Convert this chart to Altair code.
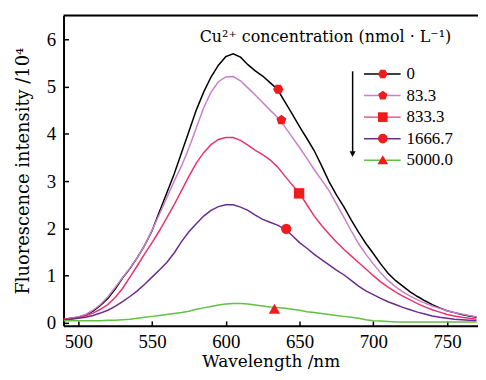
import altair as alt
import pandas as pd

# ---------------- data ----------------
wavelength = list(range(490, 775, 5))
series_names = ["0", "83.3", "833.3", "1666.7", "5000.0"]

int_0 = [0.08, 0.10, 0.12, 0.17, 0.25, 0.37, 0.52, 0.72, 0.95, 1.15, 1.38, 1.64,
         1.95, 2.35, 2.75, 3.15, 3.60, 4.05, 4.50, 4.88, 5.20, 5.45, 5.63, 5.69,
         5.62, 5.46, 5.33, 5.22, 5.08, 4.94, 4.68, 4.42, 4.15, 3.90, 3.64, 3.32,
         2.99, 2.71, 2.46, 2.18, 1.92, 1.68, 1.47, 1.25, 1.05, 0.90, 0.78, 0.66,
         0.56, 0.47, 0.39, 0.32, 0.26, 0.22, 0.18, 0.15, 0.12]
int_83 = [0.08, 0.10, 0.13, 0.18, 0.27, 0.39, 0.55, 0.75, 0.96, 1.16, 1.38, 1.64,
          1.96, 2.30, 2.65, 3.00, 3.32, 3.70, 4.12, 4.55, 4.88, 5.10, 5.20, 5.21,
          5.12, 4.97, 4.82, 4.66, 4.50, 4.35, 4.15, 3.93, 3.71, 3.48, 3.24, 3.02,
          2.80, 2.52, 2.24, 1.95, 1.68, 1.45, 1.25, 1.06, 0.90, 0.77, 0.66, 0.57,
          0.49, 0.42, 0.36, 0.31, 0.26, 0.22, 0.19, 0.16, 0.13]
int_833 = [0.08, 0.09, 0.11, 0.15, 0.21, 0.29, 0.39, 0.54, 0.73, 0.97, 1.21, 1.46,
           1.70, 1.95, 2.22, 2.50, 2.80, 3.10, 3.38, 3.60, 3.77, 3.88, 3.92, 3.92,
           3.86, 3.76, 3.65, 3.56, 3.45, 3.30, 3.11, 2.92, 2.74, 2.50, 2.26, 2.06,
           1.88, 1.71, 1.56, 1.42, 1.28, 1.14, 1.00, 0.87, 0.76, 0.66, 0.57, 0.49,
           0.41, 0.34, 0.28, 0.23, 0.18, 0.15, 0.12, 0.10, 0.08]
int_1667 = [0.07, 0.08, 0.10, 0.12, 0.16, 0.21, 0.27, 0.35, 0.45, 0.56, 0.68, 0.82,
            0.97, 1.12, 1.28, 1.48, 1.72, 1.93, 2.10, 2.26, 2.38, 2.46, 2.50, 2.50,
            2.45, 2.38, 2.28, 2.19, 2.13, 2.07, 1.99, 1.85, 1.70, 1.58, 1.45, 1.34,
            1.23, 1.12, 1.02, 0.90, 0.78, 0.68, 0.60, 0.52, 0.45, 0.39, 0.33, 0.28,
            0.23, 0.19, 0.15, 0.12, 0.10, 0.08, 0.07, 0.06, 0.05]
int_5000 = [0.05, 0.05, 0.05, 0.05, 0.05, 0.05, 0.06, 0.06, 0.07, 0.08, 0.10, 0.12,
            0.14, 0.16, 0.18, 0.20, 0.22, 0.25, 0.29, 0.32, 0.35, 0.38, 0.40, 0.41,
            0.41, 0.40, 0.38, 0.36, 0.34, 0.33, 0.31, 0.29, 0.27, 0.24, 0.22, 0.20,
            0.18, 0.16, 0.14, 0.12, 0.10, 0.07, 0.05, 0.04, 0.03, 0.02, 0.02, 0.02,
            0.02, 0.02, 0.02, 0.02, 0.02, 0.02, 0.02, 0.02, 0.02]

marker_wl = [635.6, 637.7, 649.7, 641.0, 633.0]
marker_val = [4.94, 4.29, 2.74, 1.99, 0.29]

arrow_wl = [686.0]
arrow_top = [5.32]
arrow_bottom = [3.62]
arrow_head = [3.57]

x_ticks = [500, 550, 600, 650, 700, 750]
y_ticks = [0, 1, 2, 3, 4, 5, 6]

legend_title = "Cu\u00b2\u207a concentration (nmol \u00b7 L\u207b\u00b9)"
x_title = "Wavelength /nm"
y_title = "Fluorescence intensity /10\u2074"

# ---------------- styles ----------------
line_colors = ["#000000", "#c97fcb", "#e8336e", "#6c2c8e", "#62c144"]
marker_color = "#ee1c1c"
marker_paths = [
    "M-1,0L-0.5,-0.866L0.5,-0.866L1,0L0.5,0.866L-0.5,0.866Z",        # hexagon
    "M0,-1L0.951,-0.309L0.588,0.809L-0.588,0.809L-0.951,-0.309Z",      # pentagon
    "square",
    "circle",
    "M-1.1,0.85L1.1,0.85L0,-1.05Z",                                    # triangle
]
W, H = 418, 313
SERIF = "DejaVu Serif"
DIGITS = "Liberation Serif"
LEG_ROWS = [59, 146]          # pixel span of the legend rows inside the plot
LEG_LINE = [303, 340]         # pixel span of the legend line samples
LEG_MARK_X = 322
LEG_TEXT_X = 346

rows = []
for name, vals in zip(series_names, [int_0, int_83, int_833, int_1667, int_5000]):
    for w, v in zip(wavelength, vals):
        rows.append({"wl": w, "val": v, "series": name})
df = pd.DataFrame(rows)
mdf = pd.DataFrame({"wl": marker_wl, "val": marker_val, "series": series_names})
adf = pd.DataFrame({"wl": arrow_wl, "top": arrow_top, "bottom": arrow_bottom, "head": arrow_head})
ldf = pd.DataFrame({"series": series_names})
one = pd.DataFrame({"t": [legend_title]})

xscale = alt.Scale(domain=[490, 771], nice=False, zero=False)
yscale = alt.Scale(domain=[-0.06, 6.5], nice=False, zero=False)
cscale = alt.Scale(domain=series_names, range=line_colors)
sscale = alt.Scale(domain=series_names, range=marker_paths)

xaxis = alt.Axis(values=x_ticks, format="d", title=x_title, grid=False,
                 tickSize=alt.ExprRef(expr="-5"), tickWidth=1.5, tickColor="black",
                 domainColor="black", domainWidth=2, labelPadding=12,
                 labelFont=DIGITS, labelFontSize=19, labelColor="black",
                 titleFont=SERIF, titleFontSize=17, titleFontWeight="normal",
                 titleColor="black", titlePadding=2)
yaxis = alt.Axis(values=y_ticks, format="d", title=y_title, grid=False,
                 tickSize=alt.ExprRef(expr="-5"), tickWidth=1.5, tickColor="black",
                 domainColor="black", domainWidth=2, labelPadding=13,
                 labelFont=DIGITS, labelFontSize=19, labelColor="black",
                 titleFont=SERIF, titleFontSize=18, titleFontWeight="normal",
                 titleColor="black", titlePadding=14)

lines = alt.Chart(df).mark_line(strokeWidth=1.5, clip=True).encode(
    x=alt.X("wl:Q", scale=xscale, axis=xaxis),
    y=alt.Y("val:Q", scale=yscale, axis=yaxis),
    color=alt.Color("series:N", scale=cscale, legend=None),
    detail="series:N",
)

points = alt.Chart(mdf).mark_point(filled=True, fill=marker_color, opacity=1,
                                   size=110, strokeWidth=0).encode(
    x=alt.X("wl:Q", scale=xscale),
    y=alt.Y("val:Q", scale=yscale),
    shape=alt.Shape("series:N", scale=sscale, legend=None),
)

arrow_line = alt.Chart(adf).mark_rule(color="black", strokeWidth=1.5).encode(
    x=alt.X("wl:Q", scale=xscale), y=alt.Y("top:Q", scale=yscale), y2="bottom:Q")
arrow_tip = alt.Chart(adf).mark_point(filled=True, fill="black", opacity=1, size=36,
                                      strokeWidth=0, shape="M-1,-1L1,-1L0,1Z").encode(
    x=alt.X("wl:Q", scale=xscale), y=alt.Y("head:Q", scale=yscale))

main = alt.layer(lines, points, arrow_line, arrow_tip)

# ---- legend built from the same series list ----
leg_y = alt.Y("series:N", axis=None,
              scale=alt.Scale(type="point", domain=series_names, range=LEG_ROWS, padding=0))
leg_lines = alt.Chart(ldf).mark_rule(strokeWidth=1.5).encode(
    x=alt.value(LEG_LINE[0]), x2=alt.value(LEG_LINE[1]), y=leg_y,
    color=alt.Color("series:N", scale=cscale, legend=None))
leg_marks = alt.Chart(ldf).mark_point(filled=True, fill=marker_color, opacity=1,
                                      size=95, strokeWidth=0).encode(
    x=alt.value(LEG_MARK_X), y=leg_y,
    shape=alt.Shape("series:N", scale=sscale, legend=None))
leg_text = alt.Chart(ldf).mark_text(font=DIGITS, fontSize=17, align="left",
                                    baseline="middle", color="black").encode(
    x=alt.value(LEG_TEXT_X), y=leg_y, text="series:N")
title_text = alt.Chart(one).mark_text(font=SERIF, fontSize=16, align="right",
                                      baseline="alphabetic", color="black").encode(
    text="t:N", x=alt.value(391), y=alt.value(27))
top_frame = alt.Chart(one).mark_rule(color="black", strokeWidth=2).encode(
    x=alt.value(0), x2=alt.value(W), y=alt.value(0))

legend = alt.layer(leg_lines, leg_marks, leg_text, title_text, top_frame)

chart = alt.layer(main, legend).resolve_scale(y="independent").properties(
    width=W, height=H,
    autosize=alt.AutoSizeParams(type="none"),
    padding={"left": 56, "top": 6, "right": 0, "bottom": 45},
).configure_view(strokeWidth=0).configure(background="white")

chart.save("out.html", embed_options={"renderer": "svg", "actions": False})
